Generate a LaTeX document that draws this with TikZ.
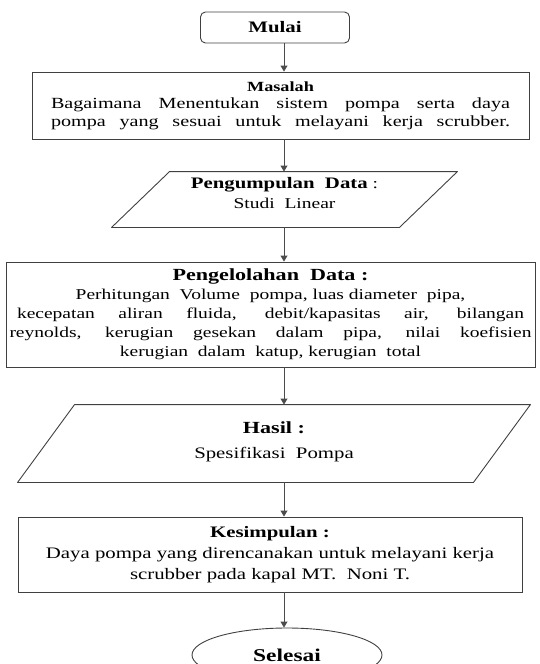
\documentclass[tikz,border=0pt]{standalone}
\usepackage{fontspec}
\setmainfont{Liberation Serif}[FakeStretch=1.3]
\usepackage{tikz}
\tikzset{basic/.style={draw=black!75,fill=none,line width=0.9pt,
                       text badly centered,align=center,inner sep=0pt}}
\tikzset{terminal/.style={basic,rectangle,rounded corners=5pt}}
\tikzset{process/.style={basic,rectangle}}
\tikzset{inout/.style={basic,draw=none,rectangle}}
\tikzset{finish/.style={basic,ellipse}}
\tikzset{outline/.style={draw=black!75,line width=0.9pt,line join=round}}
\tikzset{flow/.style={draw=black!70,line width=0.9pt,
                      -{Triangle[length=6pt,width=7pt]}}}
\newcommand{\sz}[2]{\fontsize{#1}{#2}\selectfont}
\newcommand{\jline}[2]{\makebox[#1][s]{#2}}
% parallelogram round an (undrawn) node: name, slant offset
\newcommand{\slantbox}[2]{\draw[outline] ([xshift=#2]#1.north west) -- (#1.north east)
                            -- ([xshift=-#2]#1.south east) -- (#1.south west) -- cycle;}
\usetikzlibrary{shapes.geometric,arrows.meta}

\begin{document}
\begin{tikzpicture}[x=1pt,y=-1pt]
    \useasboundingbox (0,0) rectangle (539,664);
    % Draw start node
    \node[terminal,minimum width=149pt,minimum height=31pt,font=\sz{16}{18}]
        (mulai) at (275,27.5) {\textbf{Mulai}};
    % Draw problem box
    \node[process,minimum width=497pt,minimum height=67pt,font=\sz{15.5}{17.5}]
        (masalah) at (280.5,105.5)
        {{\sz{14}{17.5}\textbf{Masalah}}\\
         \jline{459pt}{Bagaimana Menentukan sistem pompa serta daya}\\
         \jline{459pt}{pompa yang sesuai untuk melayani kerja scrubber.}};
    % Draw data input node
    \node[inout,minimum width=345pt,minimum height=55pt,font=\sz{15}{20}]
        (kumpul) at (284.5,199.5)
        {{\sz{16}{20}\textbf{Pengumpulan~~Data}} :\\ Studi~~Linear\\[-7pt]};
    \slantbox{kumpul}{58pt}
    % Draw processing box
    \node[process,minimum width=529pt,minimum height=105pt,font=\sz{15}{19}]
        (olah) at (270.5,314.5)
        {{\sz{17}{19}\textbf{Pengelolahan~~Data :}}\\
         Perhitungan~~Volume~~pompa, luas diameter~~pipa,\\
         \jline{507pt}{kecepatan aliran fluida, debit/kapasitas air, bilangan}\\
         \jline{522pt}{reynolds, kerugian gesekan dalam pipa, nilai koefisien}\\
         kerugian~~dalam~~katup, kerugian~~total};
    % Draw result node
    \node[inout,minimum width=512pt,minimum height=77pt,font=\sz{16}{25}]
        (hasil) at (274,443.5)
        {{\sz{17}{25}\textbf{Hasil :}}\\ Spesifikasi~~Pompa\\[-19pt]};
    \slantbox{hasil}{57pt}
    % Draw conclusion box
    \node[process,minimum width=504pt,minimum height=75pt,font=\sz{16}{21}]
        (simpul) at (270,554.5)
        {{\sz{16}{21}\textbf{Kesimpulan :}}\\
         Daya pompa yang direncanakan untuk melayani kerja\\
         scrubber pada kapal MT.~~Noni T.};
    % Draw end node
    \node[finish,minimum width=190pt,minimum height=54pt,font=\sz{18}{20}]
        (selesai) at (287,655) {\textbf{Selesai}};
    % Connect the steps
    \coordinate (spine) at (284,0);
    \draw[flow] (spine |- mulai.south) -- (spine |- masalah.north);
    \draw[flow] (spine |- masalah.south) -- (spine |- kumpul.north);
    \draw[flow] (spine |- kumpul.south) -- (spine |- olah.north);
    \draw[flow] (spine |- olah.south) -- (spine |- hasil.north);
    \draw[flow] (spine |- hasil.south) -- (spine |- simpul.north);
    \draw[flow] (spine |- simpul.south) -- (spine |- selesai.north);
\end{tikzpicture}
\end{document}
